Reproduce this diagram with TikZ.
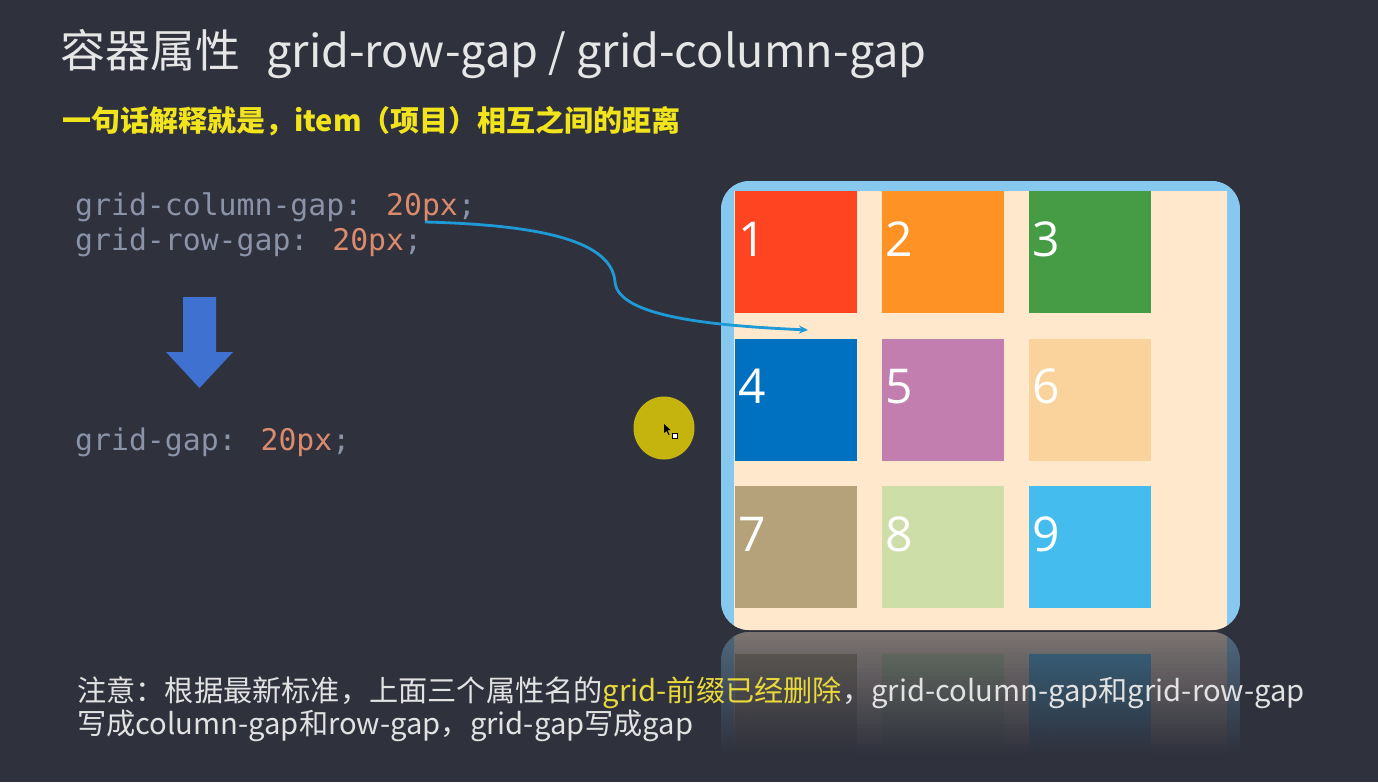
\documentclass[tikz,border=0pt]{standalone}
\usepackage{fontspec}
\setmainfont{Noto Sans CJK SC}
\newfontfamily\codefont{DejaVu Sans Mono}
\newfontfamily\numfont{Open Sans}
\usetikzlibrary{arrows.meta}
\definecolor{bg}{HTML}{2F313D}
\definecolor{titlecol}{HTML}{E6E6E6}
\definecolor{subyellow}{HTML}{F2E41C}
\definecolor{prop}{HTML}{8A93A8}
\definecolor{val}{HTML}{DB8B6C}
\definecolor{arrowblue}{HTML}{3F72D0}
\definecolor{curveblue}{HTML}{1E9AD6}
\definecolor{dotyellow}{HTML}{C6B40E}
\definecolor{boxblue}{HTML}{86C8EE}
\definecolor{beige}{HTML}{FFE8CC}
\definecolor{notecol}{HTML}{E2E2E2}
\definecolor{noteyellow}{HTML}{E8D83A}
\definecolor{c1}{HTML}{FF4422}
\definecolor{c2}{HTML}{FF9224}
\definecolor{c3}{HTML}{469C44}
\definecolor{c4}{HTML}{0070C0}
\definecolor{c5}{HTML}{C27EAE}
\definecolor{c6}{HTML}{FAD29C}
\definecolor{c7}{HTML}{B6A27A}
\definecolor{c8}{HTML}{CEDEA8}
\definecolor{c9}{HTML}{44BDEE}
\tikzset{
  txt/.style={anchor=base west, inner sep=0pt},
  cellbox/.style={anchor=north west, minimum width=122pt, minimum height=122pt, inner sep=0pt, draw=none},
  numtext/.style={anchor=base west, inner sep=0pt, text=white, font=\numfont\fontsize{48}{56}\selectfont},
  codetxt/.style={anchor=base west, inner sep=0pt, font=\codefont\fontsize{29.8}{36}\selectfont},
  notetxt/.style={anchor=base west, inner sep=0pt, text=notecol, font=\fontsize{29.2}{34}\selectfont},
}
\begin{document}
\begin{tikzpicture}[x=1pt,y=-1pt]
\fill[bg] (0,0) rectangle (1378,782);
\useasboundingbox (0,0) rectangle (1378,782);

% title and subtitle
\node[txt, text=titlecol, font=\fontsize{45}{54}\selectfont] (title) at (60,67) {容器属性\hspace{26pt}grid-row-gap / grid-column-gap};
\node[txt, text=subyellow, font=\bfseries\fontsize{29}{35}\selectfont] (subtitle) at (62,131) {一句话解释就是，item（项目）相互之间的距离};

% code
\node[codetxt] (code1) at (75,215) {\textcolor{prop}{grid-column-gap:} \textcolor{val}{20px}\textcolor{prop}{;}};
\node[codetxt] (code2) at (75,250) {\textcolor{prop}{grid-row-gap:} \textcolor{val}{20px}\textcolor{prop}{;}};
\node[codetxt] (code3) at (75,450) {\textcolor{prop}{grid-gap:} \textcolor{val}{20px}\textcolor{prop}{;}};

% big down arrow
\fill[arrowblue] (183,297) -- (216,297) -- (216,352) -- (233,352) -- (199.5,388) -- (166,352) -- (183,352) -- cycle;

% yellow pointer dot
\fill[dotyellow] (664,428) ellipse [x radius=30.5, y radius=31.5];
\fill[black] (664,424) -- (664,433) -- (666.5,431) -- (668.5,435) -- (669.5,434.5) -- (667.5,430.5) -- (670.5,430) -- cycle;
\draw[black, line width=0.8pt, fill=white] (672,433.5) rectangle (677,438.5);

% reflection (pre-blended, fading downwards)
\foreach \i in {0,...,29}{
  \pgfmathsetmacro{\f}{36*(1-\i/30)}
  \pgfmathsetmacro{\ft}{14*(1-\i/30)}
  \pgfmathsetmacro{\ya}{632+\i*4}
  \pgfmathsetmacro{\yb}{636.6+\i*4}
  \begin{scope}
    \clip (715,\ya) rectangle (1245,\yb);
    \clip[rounded corners=28] (721,632) rectangle (1240,1081);
    \fill[boxblue!\f!bg] (721,632) rectangle (1240,1081);
    \fill[beige!\f!bg] (734,622) rectangle (1227,1071);
    \fill[c7!\f!bg] (735,654) rectangle (857,776);
    \fill[c8!\f!bg] (882,654) rectangle (1004,776);
    \fill[c9!\f!bg] (1029,654) rectangle (1151,776);
    \node[numtext, text=white!\ft!c7!\f!bg, yscale=-1, transform shape] at (738,711) {7};
    \node[numtext, text=white!\ft!c8!\f!bg, yscale=-1, transform shape] at (885,711) {8};
    \node[numtext, text=white!\ft!c9!\f!bg, yscale=-1, transform shape] at (1032,711) {9};
  \end{scope}
}

% grid container
\begin{scope}
\clip[rounded corners=28] (721,181) rectangle (1240,630);
\fill[boxblue] (721,181) rectangle (1240,630);
\fill[beige] (734,191) rectangle (1227,640);
\end{scope}

% cells
\foreach \n/\c/\r in {1/0/0,2/1/0,3/2/0,4/0/1,5/1/1,6/2/1,7/0/2,8/1/2,9/2/2}{
  \node[cellbox, fill=c\n] (cell\n) at ({735+147*\c},{191+147.5*\r}) {};
  \node[numtext] (num\n) at ({738+147*\c},{256+147.5*\r}) {\n};
}

% connector
\coordinate (cs) at (425,222);
\coordinate (ce) at (808,330);
\draw[curveblue, line width=2.8pt, -{Stealth[length=9pt,width=8pt]}]
  (cs) .. controls (545,225) and (612,242) .. (615,282)
       .. controls (618,318) and (720,326) .. (ce);

% note
\node[notetxt] (note1) at (77,701) {注意：根据最新标准，上面三个属性名的\textcolor{noteyellow}{grid-前缀已经删除}，grid-column-gap和grid-row-gap};
\node[notetxt] (note2) at (77,734) {写成column-gap和row-gap，grid-gap写成gap};
\end{tikzpicture}
\end{document}
